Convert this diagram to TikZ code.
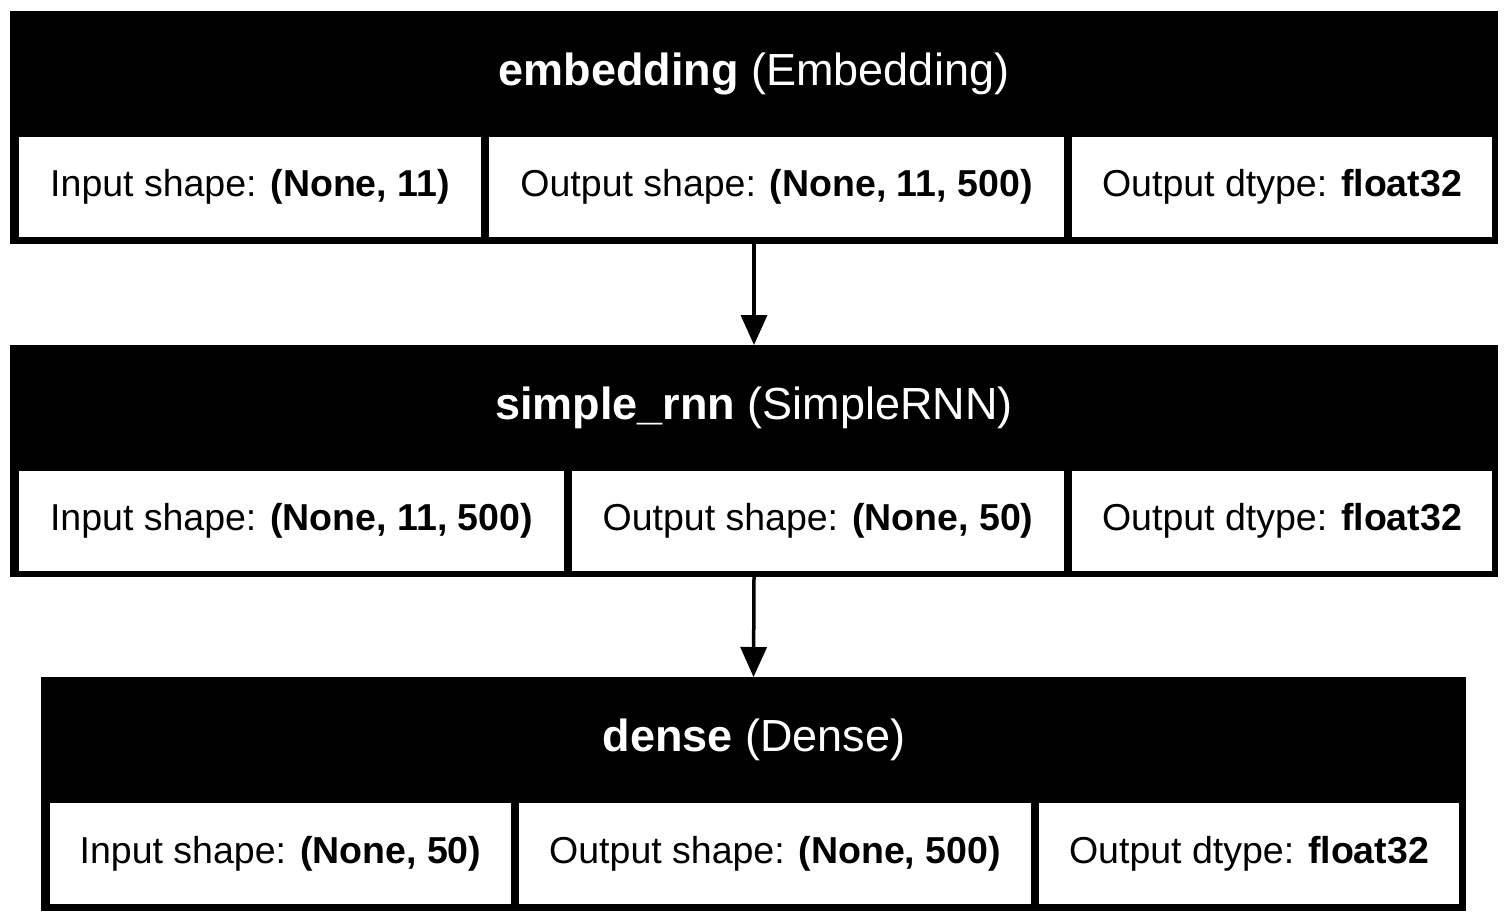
\documentclass[tikz,border=0pt]{standalone}
\usepackage{fontspec}
\setmainfont{Liberation Sans}
\usetikzlibrary{arrows.meta}

\tikzset{
	layer/.style={fill=black, inner sep=0pt, outer sep=0pt},
	head/.style={text=white, font=\fontsize{22.5}{27}\selectfont},
	cell/.style={fill=white, inner sep=0pt, outer sep=0pt, minimum height=50pt, font=\fontsize{18.75}{22}\selectfont},
	flow/.style={line width=1.75pt, -{Triangle[length=15pt, width=13pt]}}
}

\begin{document}
\begin{tikzpicture}[x=0.5pt, y=-0.5pt]
		\useasboundingbox (0,0) rectangle (1508,922);
		% embedding layer
		\node[layer, minimum width=744pt, minimum height=116.5pt] (emb) at (754,127.5) {};
		\node[head] (emb-head) at (754,74) {\textbf{embedding} (Embedding)};
		\node[cell, minimum width=231pt] (emb-in) at (250,187) {Input shape: \textbf{(None, 11)}};
		\node[cell, minimum width=287.5pt] (emb-out) at (776.5,187) {Output shape: \textbf{(None, 11, 500)}};
		\node[cell, minimum width=210pt] (emb-dt) at (1282,187) {Output dtype: \textbf{float32}};
		% simple_rnn layer
		\node[layer, minimum width=744pt, minimum height=116pt] (rnn) at (754,461) {};
		\node[head] (rnn-head) at (754,408) {\textbf{simple\_rnn} (SimpleRNN)};
		\node[cell, minimum width=272.5pt] (rnn-in) at (291.5,521) {Input shape: \textbf{(None, 11, 500)}};
		\node[cell, minimum width=246pt] (rnn-out) at (818,521) {Output shape: \textbf{(None, 50)}};
		\node[cell, minimum width=210pt] (rnn-dt) at (1282,521) {Output dtype: \textbf{float32}};
		% dense layer
		\node[layer, minimum width=712.5pt, minimum height=117pt] (dense) at (753.5,794) {};
		\node[head] (dense-head) at (754,740) {\textbf{dense} (Dense)};
		\node[cell, minimum width=230.5pt, minimum height=50.5pt] (dense-in) at (280.5,853.5) {Input shape: \textbf{(None, 50)}};
		\node[cell, minimum width=256pt, minimum height=50.5pt] (dense-out) at (775,853.5) {Output shape: \textbf{(None, 500)}};
		\node[cell, minimum width=210pt, minimum height=50.5pt] (dense-dt) at (1249,853.5) {Output dtype: \textbf{float32}};
		% arrows between layers
		\foreach \a/\b in {emb/rnn, rnn/dense}
		{
			\draw[flow] (\a.south) -- (\b.north);
		}
	\end{tikzpicture}
\end{document}
